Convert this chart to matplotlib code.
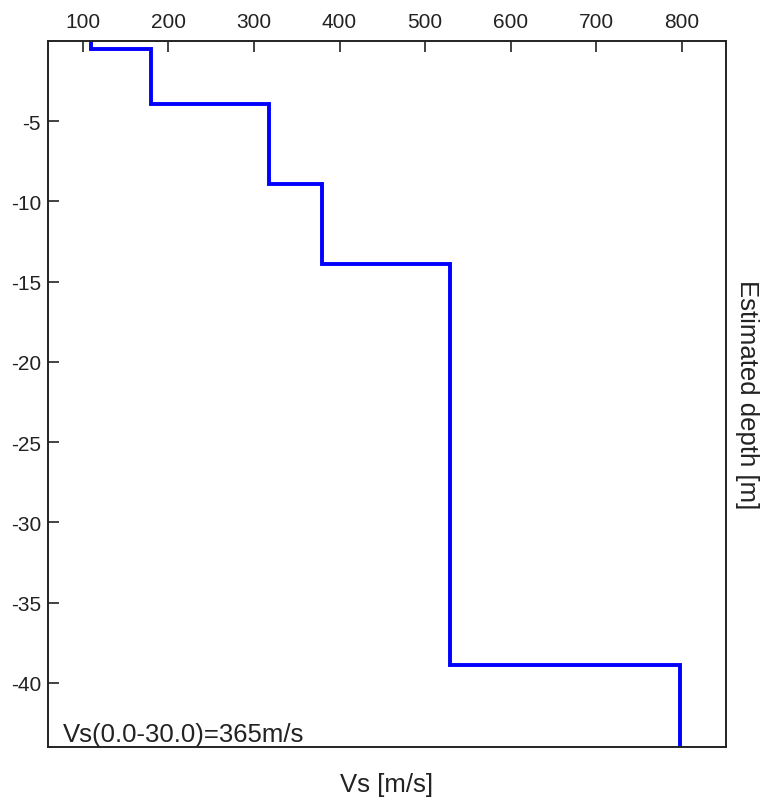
import matplotlib
matplotlib.use("Agg")
import matplotlib.pyplot as plt

# Layer model: shear-wave velocity per layer and the depth of each layer bottom
vs_layers = [110, 180, 318, 379, 529, 798]          # m/s
layer_bottoms = [0.5, 3.9, 8.9, 13.9, 38.9, 44.0]   # m below surface
vs30_label = "Vs(0.0-30.0)=365m/s"

x_ticks = [100, 200, 300, 400, 500, 600, 700, 800]
y_ticks = [-5, -10, -15, -20, -25, -30, -35, -40]

plt.rcParams["font.family"] = ["Liberation Sans", "DejaVu Sans"]

fig = plt.figure(figsize=(7.64, 8.03), dpi=100)
ax = fig.add_axes([48 / 764, 1 - 748 / 803, (726 - 48) / 764, (748 - 42) / 803])

# Build the staircase profile from the layer table
xs, ys = [], []
top = 0.0
for v, bottom in zip(vs_layers, layer_bottoms):
    xs += [v, v]
    ys += [-top, -bottom]
    top = bottom
ax.plot(xs, ys, color="#0000ff", lw=2.8, solid_joinstyle="miter")

ax.set_xlim(59.5, 851.4)
ax.set_ylim(-44, 0)

ax.xaxis.tick_top()
ax.set_xticks(x_ticks)
ax.set_xticklabels([str(t) for t in x_ticks])
ax.set_yticks(y_ticks)
ax.set_yticklabels([str(t) for t in y_ticks])
ax.tick_params(axis="both", direction="in", length=8, width=1.2, color="#222222",
               labelsize=15, labelcolor="#222222")
ax.tick_params(axis="x", pad=7)
ax.tick_params(axis="y", pad=5)

for s in ax.spines.values():
    s.set_linewidth(1.4)
    s.set_color("#222222")

ax.set_xlabel("Vs [m/s]", fontsize=18.5, color="#222222", labelpad=18)
ax.yaxis.set_label_position("right")
ax.set_ylabel("Estimated depth [m]", fontsize=18.5, color="#222222",
              rotation=-90, labelpad=24)

ax.text(0.022, 0.009, vs30_label, transform=ax.transAxes, fontsize=18.5,
        color="#222222", ha="left", va="baseline")

fig.savefig("out.png", dpi=100)
